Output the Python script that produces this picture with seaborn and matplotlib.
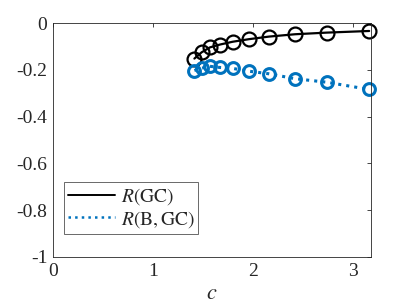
import matplotlib
matplotlib.use("Agg")
import matplotlib.pyplot as plt
import seaborn as sns
import pandas as pd
from matplotlib.lines import Line2D

# data
c_vals = [1.414, 1.487, 1.57, 1.67, 1.797, 1.96, 2.16, 2.42, 2.737, 3.162]
r_gc = [-0.152, -0.125, -0.104, -0.092, -0.080, -0.069, -0.058, -0.048, -0.041, -0.034]
r_bgc = [-0.203, -0.193, -0.185, -0.190, -0.194, -0.206, -0.217, -0.238, -0.253, -0.284]

df = pd.DataFrame({"c": c_vals, "gc": r_gc, "bgc": r_bgc})

sns.set_style("white")
plt.rcParams['font.family'] = ['Liberation Serif', 'DejaVu Serif']
plt.rcParams['mathtext.fontset'] = 'stix'

fig = plt.figure(figsize=(4.09, 3.07), dpi=100)
ax = fig.add_axes([0.1296, 0.163, 0.7774, 0.762])

blue = "#0072BD"
sns.lineplot(data=df, x="c", y="gc", ax=ax, color="black", lw=1.6,
             marker="o", markersize=10, mfc="none", mec="black", mew=1.6,
             label=r"$R(\mathrm{GC})$", clip_on=False)
sns.lineplot(data=df, x="c", y="bgc", ax=ax, color=blue, lw=2.2, ls=":",
             marker="o", markersize=8.5, mfc="none", mec=blue, mew=2.2,
             label=r"$R(\mathrm{B,GC})$", clip_on=False)

ax.set_xlim(0, 3.18)
ax.set_ylim(-1, 0)
ax.set_xticks([0, 1, 2, 3])
ax.set_yticks([0, -0.2, -0.4, -0.6, -0.8, -1])
ax.set_yticklabels(["0", "-0.2", "-0.4", "-0.6", "-0.8", "-1"])
ax.tick_params(direction="in", top=True, right=True, length=3, width=0.6,
               labelsize=14, colors="#262626", pad=4)
for s in ax.spines.values():
    s.set_color("#262626")
    s.set_linewidth(0.6)
ax.set_xlabel(r"$c$", fontsize=16, labelpad=4)
ax.set_ylabel("")

labels = [r"$R(\mathrm{GC})$", r"$R(\mathrm{B,GC})$"]
h = [Line2D([], [], color="black", lw=1.4),
     Line2D([], [], color=blue, lw=1.8, ls=":")]
leg = ax.legend(h, labels, loc="lower left", bbox_to_anchor=(0.035, 0.1),
                fontsize=14, frameon=True, fancybox=False, edgecolor="#262626",
                handlelength=2.4, handletextpad=0.3, borderpad=0.2,
                labelspacing=0.1, borderaxespad=0)
leg.get_frame().set_linewidth(0.6)

fig.savefig("out.png", dpi=100)
